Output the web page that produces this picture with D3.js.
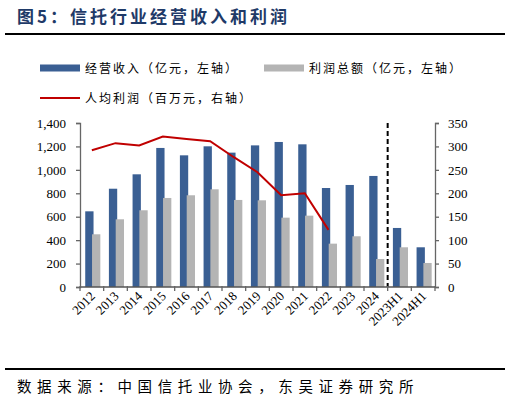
<!DOCTYPE html>
<html>
<head>
<meta charset="utf-8">
<script src="https://cdn.jsdelivr.net/npm/d3@7"></script>
<style>
  body { margin: 0; background: #fff; }
  svg { display: block; }
  .cjk { font-family: "Noto Sans CJK SC", sans-serif; }
  .num { font-family: "Liberation Serif", "Times New Roman", serif; font-size: 13px; fill: #000; }
</style>
</head>
<body>
<div id="graph"></div>
<script>
var years = ['2012', '2013', '2014', '2015', '2016', '2017', '2018', '2019', '2020', '2021', '2022', '2023', '2024', '2023H1', '2024H1']
// 经营收入 (亿元)
var revenue = [646, 839, 962, 1187, 1124, 1201, 1147, 1209, 1238, 1218, 845, 871, 948, 504, 339]
// 利润总额 (亿元)
var profit = [450, 578, 655, 760, 783, 834, 743, 740, 592, 609, 370, 433, 239, 339, 205]
// 人均利润 (百万元), 到 2022 为止
var perCapita = [292, 307, 302, 321, 316, 311, 277, 245, 196, 200, 122]

var leftTicks = [0, 200, 400, 600, 800, 1000, 1200, 1400]
var rightTicks = [0, 50, 100, 150, 200, 250, 300, 350]

var blue = '#3a5f93', gray = '#b4b4b4', red = '#c00000'

var W = 510, H = 403
var svg = d3.select('#graph').append('svg').attr('width', W).attr('height', H)

// title
svg.append('text').attr('class', 'cjk')
  .attr('x', 17).attr('y', 23)
  .attr('font-size', 17).attr('font-weight', 'bold').attr('letter-spacing', 3)
  .attr('fill', '#1f3a68')
  .text('图5：信托行业经营收入和利润')
svg.append('line').attr('x1', 5).attr('x2', 505).attr('y1', 34).attr('y2', 34)
  .attr('stroke', '#000').attr('stroke-width', 2)

// legend
var legend = [
  {label: '经营收入（亿元，左轴）', color: blue, type: 'rect', x: 40, y: 68},
  {label: '利润总额（亿元，左轴）', color: gray, type: 'rect', x: 264, y: 68},
  {label: '人均利润（百万元，右轴）', color: red, type: 'line', x: 40, y: 98}
]
var lg = svg.selectAll('g.lg').data(legend).enter().append('g').attr('class', 'lg')
  .attr('transform', d => 'translate(' + d.x + ',' + d.y + ')')
lg.filter(d => d.type == 'rect').append('rect')
  .attr('x', 0).attr('y', -3.5).attr('width', 40).attr('height', 7).attr('fill', d => d.color)
lg.filter(d => d.type == 'line').append('line')
  .attr('x1', 0).attr('x2', 40).attr('stroke', d => d.color).attr('stroke-width', 2)
lg.append('text').attr('class', 'cjk')
  .attr('x', 45).attr('y', 4.5).attr('font-size', 12).attr('letter-spacing', 2)
  .text(d => d.label)

// scales
var x = d3.scaleBand().domain(years).range([80, 435]).padding(0)
var yL = d3.scaleLinear().domain([0, 1400]).range([287, 123])
var yR = d3.scaleLinear().domain([0, 350]).range([287, 123])

// bars
var bw = 8.3
svg.selectAll('rect.rev').data(years).enter().append('rect').attr('class', 'rev')
  .attr('x', d => x(d) + x.bandwidth() / 2 - 6.6)
  .attr('y', (d, i) => yL(revenue[i]))
  .attr('width', bw)
  .attr('height', (d, i) => yL(0) - yL(revenue[i]))
  .attr('fill', blue)
svg.selectAll('rect.prof').data(years).enter().append('rect').attr('class', 'prof')
  .attr('x', d => x(d) + x.bandwidth() / 2 + 0.2)
  .attr('y', (d, i) => yL(profit[i]))
  .attr('width', bw)
  .attr('height', (d, i) => yL(0) - yL(profit[i]))
  .attr('fill', gray)

// line
var line = d3.line()
  .x((d, i) => x(years[i]) + x.bandwidth() / 2)
  .y(d => yR(d))
svg.append('path').datum(perCapita)
  .attr('d', line).attr('fill', 'none').attr('stroke', red).attr('stroke-width', 2)

// dashed divider
var xd = x('2023H1')
svg.append('line').attr('x1', xd).attr('x2', xd).attr('y1', yL(1400)).attr('y2', yL(0))
  .attr('stroke', '#000').attr('stroke-width', 2).attr('stroke-dasharray', '5,3')

// axes
var axisColor = '#666'
var left = svg.append('g').attr('transform', 'translate(80,0)')
  .call(d3.axisLeft(yL).tickValues(leftTicks).tickFormat(d3.format(',')).tickSize(4).tickPadding(10))
var right = svg.append('g').attr('transform', 'translate(435,0)')
  .call(d3.axisRight(yR).tickValues(rightTicks).tickSize(4).tickPadding(9))
;[left, right].forEach(function(g){
  g.selectAll('path').attr('stroke', axisColor).attr('stroke-width', 1.3)
  g.selectAll('line').attr('stroke', axisColor).attr('stroke-width', 1.3)
  g.selectAll('text').attr('class', 'num').attr('font-size', null).attr('font-family', null)
})

// x axis
svg.append('line').attr('x1', 80).attr('x2', 435).attr('y1', yL(0)).attr('y2', yL(0))
  .attr('stroke', '#555').attr('stroke-width', 1.5)
var bounds = years.map(d => x(d)).concat([x.range()[1]])
svg.selectAll('line.xt').data(bounds).enter().append('line').attr('class', 'xt')
  .attr('x1', d => d).attr('x2', d => d).attr('y1', yL(0) - 1).attr('y2', yL(0) + 4)
  .attr('stroke', axisColor).attr('stroke-width', 1.3)
svg.selectAll('text.xl').data(years).enter().append('text').attr('class', 'xl num')
  .attr('text-anchor', 'end')
  .attr('transform', d => 'translate(' + (x(d) + x.bandwidth() / 2 + 4) + ',' + (yL(0) + 10) + ') rotate(-45)')
  .text(d => d)

// footer
svg.append('line').attr('x1', 5).attr('x2', 505).attr('y1', 369).attr('y2', 369)
  .attr('stroke', '#000').attr('stroke-width', 2)
svg.append('text').attr('class', 'cjk')
  .attr('x', 17).attr('y', 392).attr('font-size', 14.5).attr('letter-spacing', 5.6)
  .text('数据来源：中国信托业协会，东吴证券研究所')
</script>
</body>
</html>
